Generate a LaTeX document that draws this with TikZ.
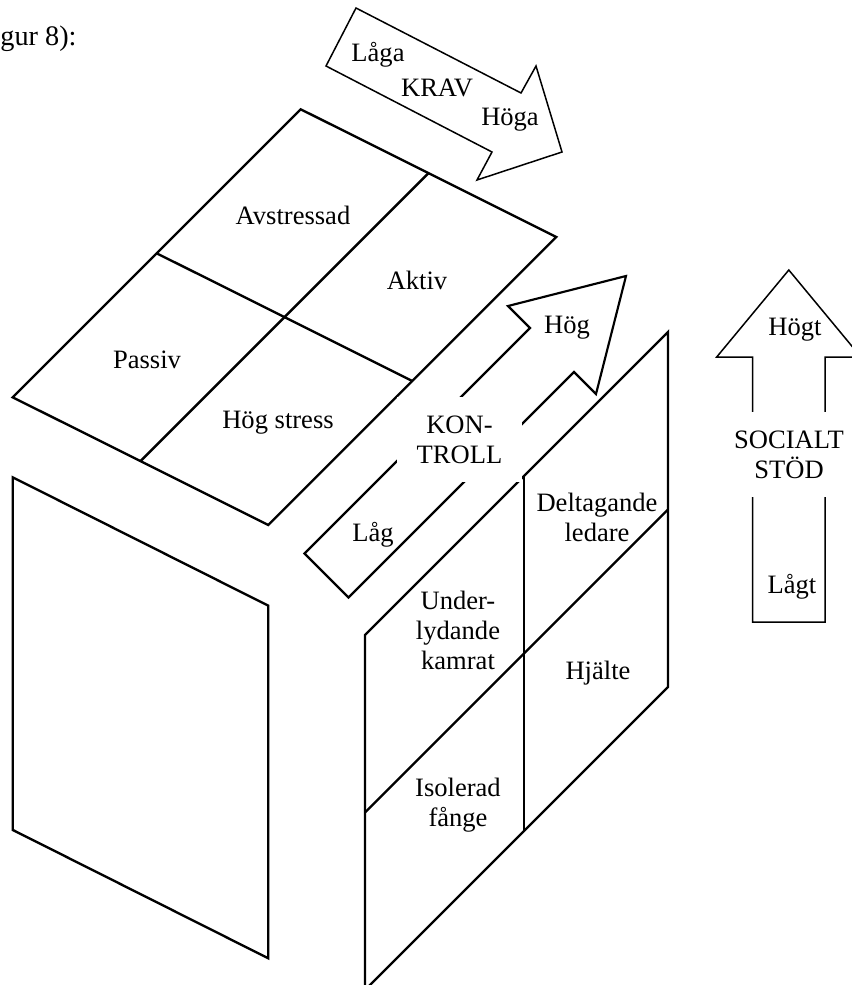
\documentclass[tikz,border=0pt]{standalone}
\usepackage{fontspec}
\setmainfont{Liberation Serif}
\usetikzlibrary{calc}

\begin{document}
\begin{tikzpicture}[x=0.467pt, y=-0.467pt,
    face/.style={line width=1.1pt, line join=miter},
    blockarrow/.style={line width=0.7pt, line join=miter, fill=white},
    lbl/.style={font=\fontsize{12.4}{14}\selectfont, align=center, inner sep=0pt},
    gapbox/.style={lbl, fill=white, minimum width=58.4pt, minimum height=39.7pt}]

    \useasboundingbox (0,0) rectangle (852,985);
    \clip (0,0) rectangle (852,985);

    % --- Caption fragment ---
    \node[lbl, font=\fontsize{13.2}{15}\selectfont, anchor=base west] (caption) at (0,46) {gur 8):};

    % --- KRAV arrow ---
    \draw[blockarrow] (356,8) -- (521,93) -- (536,66) -- (562,152)
        -- (477,180) -- (492,152) -- (326,66) -- cycle;
    \node[lbl] (kravlow) at (378,55) {Låga};
    \node[lbl] (krav) at (437,88) {KRAV};
    \node[lbl] (kravhigh) at (510,120) {Höga};

    % --- TOP face ---
    \coordinate (tL) at (12.7,397.3);
    \coordinate (tT) at (300.7,109.3);
    \coordinate (tR) at (556.3,237);
    \coordinate (tB) at (268.3,525);
    \draw[face] (tL) -- (tT) -- (tR) -- (tB) -- cycle;
    \draw[face] ($(tL)!0.5!(tT)$) -- ($(tB)!0.5!(tR)$);
    \draw[face] ($(tT)!0.5!(tR)$) -- ($(tL)!0.5!(tB)$);
    \node[lbl] (avstressad) at (293,215) {Avstressad};
    \node[lbl] (aktiv) at (417,280) {Aktiv};
    \node[lbl] (passiv) at (147,360) {Passiv};
    \node[lbl] (hogstress) at (278,423) {Hög stress};

    % --- LEFT face ---
    \draw[face] (12.7,477.3) -- (268.3,605.7) -- (268.3,958.3) -- (12.7,829.9) -- cycle;

    % --- RIGHT face ---
    \coordinate (rTL) at (365,635);
    \coordinate (rTR) at (668,332);
    \coordinate (rBR) at (668,687);
    \coordinate (rBL) at (365,990);
    \draw[face] (rTL) -- (rTR) -- (rBR) -- (rBL) -- cycle;
    \draw[face] (524,476) -- (524,831);
    \draw[face] ($(rTL)!0.5!(rBL)$) -- ($(rTR)!0.5!(rBR)$);
    \node[lbl] (deltagande) at (597,517) {Deltagande\\ledare};
    \node[lbl] (underlydande) at (458,630) {Under-\\lydande\\kamrat};
    \node[lbl] (hjalte) at (598,673) {Hjälte};
    \node[lbl] (isolerad) at (458,805) {Isolerad\\fånge};

    % --- KONTROLL arrow ---
    \draw[blockarrow, line width=1pt] (304.5,553.5) -- (530,328) -- (508,306) -- (626,276)
        -- (596,394) -- (574,372) -- (348.5,597.5) -- cycle;
    \node[gapbox] (kontroll) at (459.5,439.5) {KON-\\TROLL};
    \node[lbl] (kontrollhigh) at (567,328) {Hög};
    \node[lbl] (kontrolllow) at (373,535) {Låg};

    % --- SOCIALT STOD arrow ---
    \draw[blockarrow] (752.7,622) -- (752.7,357) -- (716.7,357) -- (788.8,270)
        -- (860.9,357) -- (825,357) -- (825,622) -- cycle;
    \node[gapbox] (socialt) at (789,454.5) {SOCIALT\\STÖD};
    \node[lbl] (socialthigh) at (795,330) {Högt};
    \node[lbl] (sociallow) at (792,587) {Lågt};

\end{tikzpicture}
\end{document}
